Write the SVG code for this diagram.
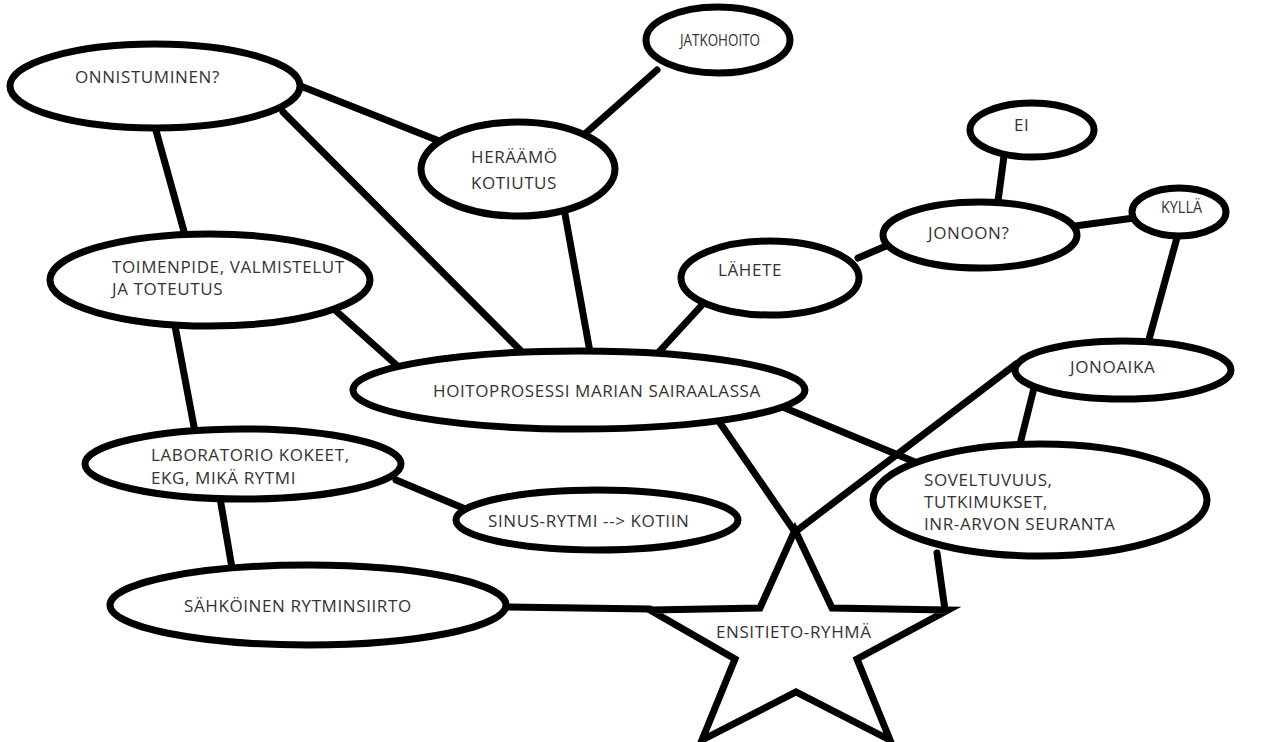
<svg xmlns="http://www.w3.org/2000/svg" width="1267" height="742" viewBox="0 0 1267 742">
<style>
.n ellipse,.n polygon{fill:#fff;stroke:#000;stroke-width:7;stroke-linejoin:miter}
.n text{font-family:"Open Sans","Liberation Sans",sans-serif;font-size:17px;letter-spacing:0.6px;fill:#333}
.n text.s{font-size:16px;letter-spacing:0}
#edges line{stroke:#000;stroke-width:7;stroke-linecap:round}
</style>
<rect width="1267" height="742" fill="#fff"/>
<g id="edges">
<line x1="298" y1="85" x2="462" y2="150"/>
<line x1="283" y1="112" x2="525" y2="355"/>
<line x1="155" y1="127" x2="185" y2="235"/>
<line x1="657" y1="70" x2="578" y2="140"/>
<line x1="565" y1="214" x2="590" y2="352"/>
<line x1="702" y1="305" x2="657" y2="354"/>
<line x1="858" y1="258" x2="886" y2="246"/>
<line x1="998" y1="201" x2="1004" y2="156"/>
<line x1="1075" y1="226" x2="1134" y2="218"/>
<line x1="1178" y1="234" x2="1148" y2="343"/>
<line x1="335" y1="310" x2="402" y2="370"/>
<line x1="175" y1="326" x2="195" y2="432"/>
<line x1="785" y1="408" x2="915" y2="462"/>
<line x1="720" y1="423" x2="795" y2="532"/>
<line x1="1016" y1="364" x2="795" y2="532"/>
<line x1="1036" y1="380" x2="1020" y2="444"/>
<line x1="937" y1="553" x2="945" y2="610"/>
<line x1="396" y1="480" x2="463" y2="508"/>
<line x1="220" y1="498" x2="232" y2="568"/>
<line x1="508" y1="607" x2="650" y2="609"/>
</g>
<g id="onnistuminen" class="n"><ellipse cx="155" cy="86" rx="145" ry="42"/><text x="75" y="83">ONNISTUMINEN?</text></g>
<g id="jatkohoito" class="n"><ellipse cx="718" cy="40" rx="72" ry="33"/><text class="s" x="680" y="46" textLength="80" lengthAdjust="spacingAndGlyphs">JATKOHOITO</text></g>
<g id="heraamo" class="n"><ellipse cx="518" cy="169" rx="97" ry="47"/><text x="471" y="163">HERÄÄMÖ</text><text x="471" y="189">KOTIUTUS</text></g>
<g id="ei" class="n"><ellipse cx="1032" cy="130" rx="62" ry="27"/><text x="1014" y="131">EI</text></g>
<g id="jonoon" class="n"><ellipse cx="980" cy="235" rx="97" ry="33"/><text x="928" y="239">JONOON?</text></g>
<g id="kylla" class="n"><ellipse cx="1179" cy="212" rx="47" ry="24"/><text class="s" x="1161" y="213" textLength="41" lengthAdjust="spacingAndGlyphs">KYLLÄ</text></g>
<g id="lahete" class="n"><ellipse cx="770" cy="278" rx="89" ry="37"/><text x="718" y="276">LÄHETE</text></g>
<g id="toimenpide" class="n"><ellipse cx="210" cy="280" rx="160" ry="46"/><text x="112" y="273">TOIMENPIDE, VALMISTELUT</text><text x="112" y="295">JA TOTEUTUS</text></g>
<g id="hoitoprosessi" class="n"><ellipse cx="579" cy="390" rx="226" ry="39"/><text x="433" y="397">HOITOPROSESSI MARIAN SAIRAALASSA</text></g>
<g id="jonoaika" class="n"><ellipse cx="1123" cy="370" rx="108" ry="29"/><text x="1070" y="373">JONOAIKA</text></g>
<g id="soveltuvuus" class="n"><ellipse cx="1040" cy="500" rx="167" ry="56"/><text x="924" y="486">SOVELTUVUUS,</text><text x="924" y="508">TUTKIMUKSET,</text><text x="924" y="530">INR-ARVON SEURANTA</text></g>
<g id="laboratorio" class="n"><ellipse cx="243" cy="464" rx="158" ry="35"/><text x="151" y="461">LABORATORIO KOKEET,</text><text x="151" y="484">EKG, MIKÄ RYTMI</text></g>
<g id="sinus" class="n"><ellipse cx="597" cy="520" rx="141" ry="30"/><text x="488" y="527">SINUS-RYTMI --&gt; KOTIIN</text></g>
<g id="sahkoinen" class="n"><ellipse cx="308" cy="605" rx="198" ry="40"/><text x="184" y="612">SÄHKÖINEN RYTMINSIIRTO</text></g>
<g id="ensitieto" class="n"><polygon points="795,530 832,608 948,610 857,659 890,740 796,692 702,740 735,659 650,610 760,608"/><text x="716" y="638">ENSITIETO-RYHMÄ</text></g>
</svg>
